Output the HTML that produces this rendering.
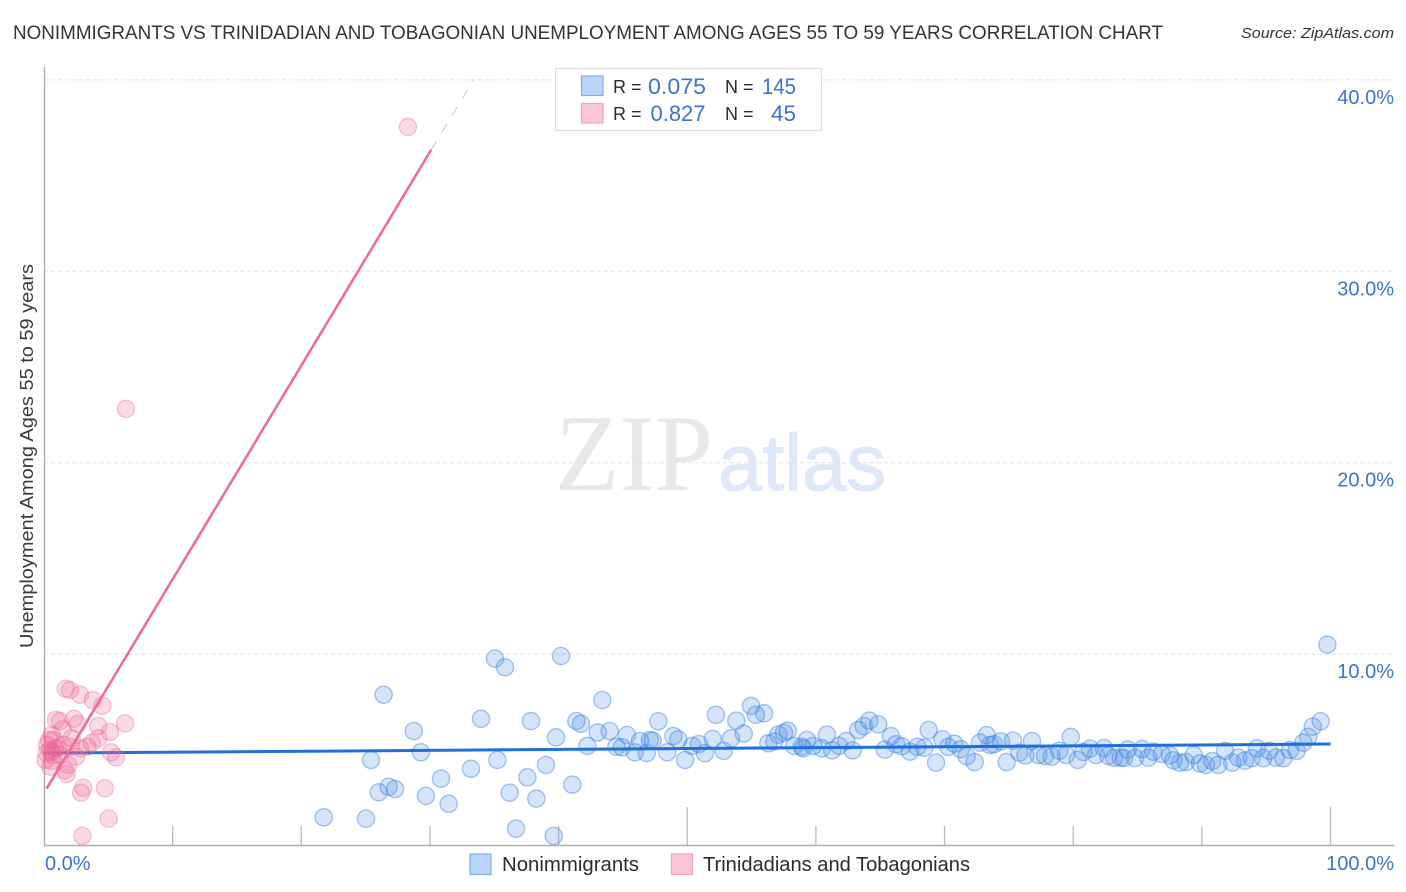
<!DOCTYPE html>
<html lang="en">
<head>
<meta charset="utf-8">
<title>Nonimmigrants vs Trinidadian and Tobagonian Unemployment Correlation Chart</title>
<style>
html,body{margin:0;padding:0;background:#fff;width:1406px;height:892px;overflow:hidden}
svg{display:block;font-family:"Liberation Sans",sans-serif}
</style>
</head>
<body>
<svg id="chart" xmlns="http://www.w3.org/2000/svg" width="1406" height="892" viewBox="0 0 1406 892">
  <rect x="0" y="0" width="1406" height="892" fill="#fff"/>
  <text x="13" y="39" font-size="19.5" fill="#33333b" textLength="1150" lengthAdjust="spacingAndGlyphs">NONIMMIGRANTS VS TRINIDADIAN AND TOBAGONIAN UNEMPLOYMENT AMONG AGES 55 TO 59 YEARS CORRELATION CHART</text>
  <text x="1241" y="38" font-size="15" font-style="italic" fill="#333" textLength="153" lengthAdjust="spacingAndGlyphs">Source: ZipAtlas.com</text>
  <g id="watermark">
    <text x="555" y="490" font-family="'Liberation Serif',serif" font-size="109" fill="#e8e8e8" textLength="158" lengthAdjust="spacingAndGlyphs">ZIP</text>
    <text x="718" y="490" font-size="80" fill="#dde8f8" stroke="#dde8f8" stroke-width="1" textLength="168" lengthAdjust="spacingAndGlyphs">atlas</text>
  </g>
  <g id="grid"></g>
  <g id="axes"></g>
  <g id="blue-points"></g>
  <g id="blue-trend"></g>
  <g id="pink-points"></g>
  <g id="pink-trend"></g>
  <text transform="translate(33,456) rotate(-90)" font-size="18.5" fill="#3a3a3a" text-anchor="middle" textLength="384" lengthAdjust="spacingAndGlyphs">Unemployment Among Ages 55 to 59 years</text>
  <g id="top-legend">
    <rect x="555.5" y="68.5" width="266" height="62" fill="#fff" stroke="#dcdcdc" stroke-width="1.2"/>
    <rect x="581.5" y="76" width="21.5" height="19.5" fill="#b9d5fa" stroke="#7faee6" stroke-width="1.2"/>
    <rect x="581.5" y="103.5" width="21.5" height="19.5" fill="#fcc6d9" stroke="#f4a3c0" stroke-width="1.2"/>
    <text x="613" y="93" font-size="18" fill="#2b2b33">R =</text>
    <text x="648" y="94" font-size="22" fill="#3b72d4" textLength="58" lengthAdjust="spacingAndGlyphs">0.075</text>
    <text x="725" y="93" font-size="18" fill="#2b2b33">N =</text>
    <text x="762" y="94" font-size="22" fill="#3b72d4" textLength="34" lengthAdjust="spacingAndGlyphs">145</text>
    <text x="613" y="120" font-size="18" fill="#2b2b33">R =</text>
    <text x="650.5" y="121" font-size="22" fill="#3b72d4" textLength="55" lengthAdjust="spacingAndGlyphs">0.827</text>
    <text x="725" y="120" font-size="18" fill="#2b2b33">N =</text>
    <text x="771" y="121" font-size="22" fill="#3b72d4" textLength="25" lengthAdjust="spacingAndGlyphs">45</text>
  </g>
  <g id="bottom-legend">
    <rect x="470" y="854" width="21" height="20.5" fill="#b9d5fa" stroke="#7faee6" stroke-width="1.2"/>
    <text x="502" y="871" font-size="20" fill="#2b2b33" textLength="137" lengthAdjust="spacingAndGlyphs">Nonimmigrants</text>
    <rect x="671.5" y="854" width="21" height="20.5" fill="#fcc6d9" stroke="#f4a3c0" stroke-width="1.2"/>
    <text x="703" y="871" font-size="20" fill="#2b2b33" textLength="267" lengthAdjust="spacingAndGlyphs">Trinidadians and Tobagonians</text>
  </g>
</svg>
<script>
var yTickValues = [10, 20, 30, 40];
var yTickLabels = ["10.0%", "20.0%", "30.0%", "40.0%"];
var xTickValues = [10, 20, 30, 40, 50, 60, 70, 80, 90, 100];
var xMajorTicks = [50, 100];
var xEndValues = [0, 100];
var xEndLabels = ["0.0%", "100.0%"];

var blueTrendX = [0, 100];
var blueTrendY = [4.83, 5.30];
var pinkSolidX = [0.2, 30.1];
var pinkSolidY = [2.97, 36.35];
var pinkDashX = [30.1, 33.4];
var pinkDashY = [36.35, 40.0];

var blueX = [21.74,25.03,26.40,28.74,29.30,25.42,26.02,26.79,27.28,29.69,30.86,31.46,33.19,33.97,35.06,35.83,35.24,36.20,36.69,37.57,37.85,38.27,39.02,39.62,40.19,39.80,41.07,41.38,41.74,43.40,42.23,43.04,43.97,44.49,44.93,45.32,45.92,46.33,46.85,47.10,47.75,47.31,48.45,48.92,49.30,49.83,50.39,50.91,51.38,51.98,52.23,52.83,53.40,53.81,54.39,54.96,55.34,55.97,56.30,56.77,57.08,57.52,57.81,58.32,58.90,59.02,59.31,59.80,60.45,60.86,61.27,61.80,62.36,62.86,63.30,63.72,64.15,64.85,65.35,65.84,66.23,66.67,67.31,67.88,68.43,68.77,69.34,69.83,70.29,70.76,71.26,71.72,72.34,72.76,73.28,73.53,73.84,74.39,75.32,74.83,75.81,76.28,76.80,77.29,77.81,78.33,78.92,79.44,79.81,80.35,80.79,81.31,81.77,82.39,82.73,83.19,83.69,84.24,83.95,84.80,85.35,85.84,86.23,86.88,87.52,87.78,88.30,88.77,89.37,89.86,90.32,90.81,91.28,91.80,92.37,92.83,93.35,93.88,94.29,94.78,95.22,95.76,96.33,96.85,97.37,97.89,98.27,98.62,99.24,99.75];
var blueY = [1.47,1.40,7.88,5.98,4.87,4.47,2.78,3.07,2.95,2.59,3.49,2.18,4.01,6.62,9.76,9.31,4.47,2.76,0.88,3.56,6.50,2.45,4.21,0.50,9.90,5.65,3.18,6.50,6.36,7.60,5.20,5.91,5.98,5.16,5.13,5.77,4.87,5.46,4.83,5.51,6.49,5.48,4.87,5.72,5.55,4.47,5.20,5.30,4.82,5.56,6.83,4.94,5.60,6.52,5.84,7.29,6.83,6.91,5.34,5.44,5.79,5.89,6.00,5.20,5.16,5.08,5.51,5.20,5.08,5.79,4.97,5.21,5.46,4.97,6.03,6.24,6.52,6.33,5.01,5.71,5.29,5.18,4.90,5.16,5.11,6.03,4.33,5.55,5.15,5.32,5.03,4.66,4.36,5.37,5.77,5.25,5.29,5.44,5.48,4.36,4.85,4.71,5.46,4.73,4.68,4.64,4.95,4.73,5.67,4.47,4.89,5.06,4.73,5.09,4.68,4.59,4.59,5.01,4.57,4.57,5.04,4.59,4.90,4.78,4.71,4.45,4.33,4.36,4.73,4.29,4.21,4.41,4.21,4.94,4.33,4.59,4.43,4.56,5.08,4.56,4.95,4.59,4.56,4.99,4.94,5.37,5.68,6.21,6.49,10.49];

var pinkX = [28.29,6.37,1.69,2.02,2.80,3.79,4.53,0.93,1.24,2.33,2.62,6.30,4.22,5.13,1.45,0.60,0.72,2.15,4.22,3.37,2.80,2.02,0.86,0.47,0.72,0.21,2.49,5.21,5.60,0.60,1.89,0.47,1.63,1.76,3.05,2.88,4.74,5.03,2.98,0.23,0.39,0.62,1.09,1.48,1.24,0.12,3.71];
var pinkY = [37.54,22.81,8.19,8.12,7.88,7.60,7.30,6.56,6.50,6.62,6.35,6.38,6.24,5.93,6.07,5.77,5.51,5.60,5.60,5.16,5.08,5.16,5.08,4.99,4.73,4.82,4.64,4.87,4.61,4.43,4.21,4.12,3.94,3.74,3.02,2.76,2.99,1.40,0.50,5.25,5.51,4.89,5.09,5.25,4.73,4.47,5.36];

var NS = "http://www.w3.org/2000/svg";
function xScale(v) { return 44 + v * 12.865; }
function yScale(v) { return 845.5 - v * 19.14; }
function make(tag, parent, attrs) {
  var el = document.createElementNS(NS, tag);
  for (var k in attrs) { el.setAttribute(k, attrs[k]); }
  document.getElementById(parent).appendChild(el);
  return el;
}

yTickValues.forEach(function (v, i) {
  var line = make("line", "grid", {x1: 44, x2: 1394, y1: yScale(v), y2: yScale(v), stroke: "#e0e0e0", "stroke-width": 1, "stroke-dasharray": "4 3"});
  
  
  var t = make("text", "axes", {x: 1394, y: yScale(v) + 24, "font-size": 20, fill: "#3b72d4", "text-anchor": "end"});
  t.textContent = yTickLabels[i];
  
  
});

var yAxis = make("line", "axes", {x1: 44.5, x2: 44.5, y1: 67, y2: 846, stroke: "#aeaeae", "stroke-width": 1.4});


var xAxis = make("line", "axes", {x1: 44, x2: 1394, y1: 845.5, y2: 845.5, stroke: "#aeaeae", "stroke-width": 1.4});



xTickValues.forEach(function (v) {
  var top = xMajorTicks.indexOf(v) >= 0 ? 807 : 826;
  var tick = make("line", "axes", {x1: xScale(v), x2: xScale(v), y1: top, y2: 845.5, stroke: "#bbbbbb", "stroke-width": 1.3});
  
  
});

xEndValues.forEach(function (v, i) {
  var t = make("text", "axes", {x: v === 0 ? 45 : 1394, y: 870, "font-size": 20, fill: "#3b72d4", "text-anchor": v === 0 ? "start" : "end"});
  t.textContent = xEndLabels[i];
  
  
});

blueX.forEach(function (v, i) {
  var c = make("circle", "blue-points", {cx: xScale(v), cy: yScale(blueY[i]), r: 8.6, fill: "rgba(74,144,232,0.24)", stroke: "rgba(50,125,225,0.42)", "stroke-width": 1.4});
  
  
});

var blueLine = make("line", "blue-trend", {x1: xScale(blueTrendX[0]), x2: xScale(blueTrendX[1]), y1: yScale(blueTrendY[0]), y2: yScale(blueTrendY[1]), stroke: "#1f70dc", "stroke-width": 3});



pinkX.forEach(function (v, i) {
  var c = make("circle", "pink-points", {cx: xScale(v), cy: yScale(pinkY[i]), r: 8.6, fill: "rgba(240,100,150,0.24)", stroke: "rgba(235,100,150,0.35)", "stroke-width": 1.4});
  
  
});

var pinkLine = make("line", "pink-trend", {x1: xScale(pinkSolidX[0]), x2: xScale(pinkSolidX[1]), y1: yScale(pinkSolidY[0]), y2: yScale(pinkSolidY[1]), stroke: "#ec6d9c", "stroke-width": 2.6});


var pinkDash = make("line", "pink-trend", {x1: xScale(pinkDashX[0]), x2: xScale(pinkDashX[1]), y1: yScale(pinkDashY[0]), y2: yScale(pinkDashY[1]), stroke: "#f3a7c3", "stroke-width": 0.9, "stroke-dasharray": "10 10"});


</script>
</body>
</html>
